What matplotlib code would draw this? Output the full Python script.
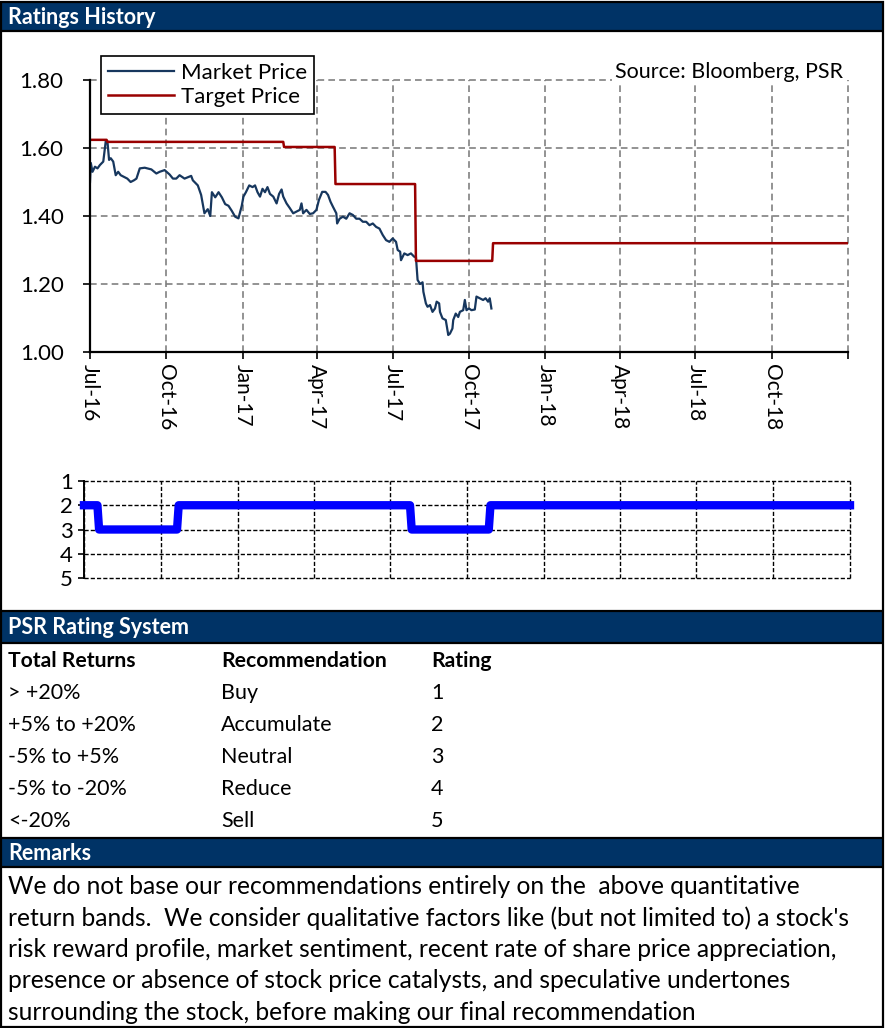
import matplotlib
matplotlib.use('Agg')
import matplotlib.pyplot as plt
import pandas as pd
from matplotlib.patches import Rectangle

plt.rcParams['font.family'] = ['Lato', 'DejaVu Sans']

# ---------------- data ----------------
start_date = pd.Timestamp('2016-07-01')
end_date = pd.Timestamp('2019-01-01')

# market price: day offsets from start_date and closing price
price_days = [0, 1, 3, 6, 9, 12, 16, 19, 21, 23, 25, 28, 31, 34, 37, 41, 45, 49, 53, 56,
              60, 66, 74, 80, 84, 90, 96, 100, 104, 108, 114, 122, 124, 130, 134, 138, 142, 145, 147, 151,
              155, 159, 163, 167, 171, 175, 179, 183, 185, 188, 192, 196, 199, 202, 205, 208, 211, 214, 217, 221,
              225, 228, 231, 233, 237, 241, 245, 249, 253, 255, 257, 261, 265, 269, 273, 276, 280, 284, 287, 290,
              293, 297, 298, 301, 305, 309, 313, 317, 321, 325, 329, 333, 337, 341, 345, 349, 353, 357, 361, 365,
              369, 371, 374, 375, 379, 383, 387, 391, 393, 395, 398, 401, 402, 405, 407, 410, 413, 416, 418, 421,
              422, 425, 429, 432, 434, 437, 438, 441, 444, 446, 450, 452, 454, 457, 460, 464, 466, 470, 474, 477,
              480, 482, 484]
price_values = [1.500, 1.556, 1.530, 1.545, 1.540, 1.550, 1.560, 1.620, 1.620, 1.565, 1.570, 1.560, 1.520, 1.530, 1.520, 1.515, 1.510, 1.500, 1.505, 1.510,
                1.540, 1.542, 1.537, 1.525, 1.530, 1.535, 1.522, 1.510, 1.510, 1.520, 1.510, 1.518, 1.505, 1.490, 1.462, 1.408, 1.420, 1.400, 1.470, 1.455,
                1.470, 1.455, 1.435, 1.430, 1.415, 1.398, 1.393, 1.430, 1.457, 1.470, 1.490, 1.485, 1.490, 1.470, 1.457, 1.480, 1.470, 1.485, 1.465, 1.457,
                1.437, 1.465, 1.478, 1.457, 1.437, 1.423, 1.408, 1.413, 1.418, 1.437, 1.408, 1.418, 1.406, 1.408, 1.418, 1.447, 1.471, 1.471, 1.462, 1.442,
                1.427, 1.408, 1.378, 1.392, 1.398, 1.392, 1.408, 1.403, 1.392, 1.392, 1.383, 1.383, 1.373, 1.378, 1.368, 1.363, 1.344, 1.329, 1.324, 1.334,
                1.324, 1.300, 1.295, 1.270, 1.290, 1.285, 1.290, 1.280, 1.280, 1.212, 1.200, 1.205, 1.177, 1.143, 1.133, 1.138, 1.118, 1.128, 1.148, 1.143,
                1.118, 1.099, 1.094, 1.050, 1.054, 1.069, 1.094, 1.113, 1.103, 1.118, 1.123, 1.153, 1.123, 1.128, 1.123, 1.125, 1.163, 1.158, 1.153, 1.158,
                1.148, 1.158, 1.128]

target_dates = ['2016-07-01', '2016-07-21', '2016-07-22', '2017-02-19', '2017-02-20', '2017-04-22',
                '2017-04-23', '2017-07-28', '2017-07-29', '2017-10-29', '2017-10-30', '2019-01-01']
target_values = [1.624, 1.624, 1.618, 1.618, 1.603, 1.603, 1.494, 1.494, 1.268, 1.268, 1.320, 1.320]

rating_dates = ['2016-07-01', '2016-07-17', '2016-07-19', '2016-10-20', '2016-10-22',
                '2017-07-25', '2017-07-27', '2017-10-27', '2017-10-29', '2019-01-01']
rating_values = [2, 2, 3, 3, 2, 2, 3, 3, 2, 2]

quarter_ticks = ['2016-07-01', '2016-10-01', '2017-01-01', '2017-04-01', '2017-07-01', '2017-10-01',
                 '2018-01-01', '2018-04-01', '2018-07-01', '2018-10-01', '2019-01-01']
quarter_labels = ['Jul-16', 'Oct-16', 'Jan-17', 'Apr-17', 'Jul-17', 'Oct-17',
                  'Jan-18', 'Apr-18', 'Jul-18', 'Oct-18', '']
price_ticks = [1.00, 1.20, 1.40, 1.60, 1.80]
rating_ticks = [1, 2, 3, 4, 5]

table_header = ['Total Returns', 'Recommendation', 'Rating']
table_returns = ['> +20%', '+5% to +20%', '-5% to +5%', '-5% to -20%', '<-20%']
table_recs = ['Buy', 'Accumulate', 'Neutral', 'Reduce', 'Sell']
table_ratings = ['1', '2', '3', '4', '5']

remarks_lines = [
    "We do not base our recommendations entirely on the  above quantitative",
    "return bands.  We consider qualitative factors like (but not limited to) a stock's",
    "risk reward profile, market sentiment, recent rate of share price appreciation,",
    "presence or absence of stock price catalysts, and speculative undertones",
    "surrounding the stock, before making our final recommendation",
]

# ---------------- figure ----------------
W, H = 886, 1028
NAVY = '#003366'
fig = plt.figure(figsize=(W / 100, H / 100), dpi=100)

def rect(x0, y0, x1, y1):
    return [x0 / W, 1 - y1 / H, (x1 - x0) / W, (y1 - y0) / H]

bg = fig.add_axes([0, 0, 1, 1], zorder=-10)
bg.set_xlim(0, W)
bg.set_ylim(H, 0)
bg.axis('off')

# navy header bars
for y0, y1 in [(3, 30), (612, 642), (839, 866)]:
    bg.add_patch(Rectangle((2, y0), 881, y1 - y0, facecolor=NAVY, edgecolor='none'))
# black separators
for y in [31, 611, 643, 838, 867]:
    bg.plot([1, 884], [y, y], color='black', lw=1.6, solid_capstyle='butt')
# outer border
bg.add_patch(Rectangle((1.5, 1.5), 882, 1025, fill=False, edgecolor='black', lw=1.6))

hdr_kw = dict(color='white', fontweight='bold', fontsize=15.5, va='center', ha='left')
bg.text(8, 17, 'Ratings History', **hdr_kw)
bg.text(8, 628, 'PSR Rating System', **hdr_kw)
bg.text(8, 853, 'Remarks', **hdr_kw)

# table
col_x = [8, 221, 431]
row_y0, row_dy = 661, 32
for cx, txt in zip(col_x, table_header):
    bg.text(cx, row_y0, txt, fontsize=15.2, fontweight='bold', va='center', ha='left')
for i, (a, b, c) in enumerate(zip(table_returns, table_recs, table_ratings)):
    yy = row_y0 + (i + 1) * row_dy
    for cx, txt in zip(col_x, (a, b, c)):
        bg.text(cx, yy, txt, fontsize=15.5, va='center', ha='left')

# remarks
for i, line in enumerate(remarks_lines):
    bg.text(8, 887 + i * 31.3, line, fontsize=17.7, va='center', ha='left')

# ---------------- price chart ----------------
ax = fig.add_axes(rect(90, 80, 848, 352))
ax.set_facecolor('none')
mp_dates = [start_date + pd.Timedelta(days=d) for d in price_days]
ax.plot(mp_dates, price_values, color='#17375E', lw=1.6, label='Market Price', zorder=3)
ax.plot(pd.to_datetime(target_dates), target_values, color='#990000', lw=1.8,
        label='Target Price', zorder=3)
ax.set_xlim(start_date, end_date)
ax.set_ylim(1.0, 1.8)
ax.set_yticks(price_ticks)
ax.set_yticklabels([f'{v:.2f}' for v in price_ticks], fontsize=16)
qt = pd.to_datetime(quarter_ticks)
ax.set_xticks(qt)
ax.set_xticklabels(quarter_labels, rotation=-90, fontsize=15, va='top', ha='center')
ax.grid(True, color='#808080', linestyle=(0, (4, 2.5)), lw=1.2)
for ln in ax.get_xgridlines() + ax.get_ygridlines():
    ln.set_clip_on(False)
for s in ['top', 'right']:
    ax.spines[s].set_visible(False)
for s in ['left', 'bottom']:
    ax.spines[s].set_linewidth(1.6)
    ax.spines[s].set_zorder(4)
ax.tick_params(axis='both', direction='out', length=5, width=1.2, pad=4)
ax.tick_params(axis='y', pad=14)

leg = ax.legend(loc='upper left', bbox_to_anchor=(101 / W, 1 - 56 / H),
                bbox_transform=fig.transFigure, borderaxespad=0, frameon=True,
                fancybox=False, edgecolor='black', framealpha=1, fontsize=16,
                handlelength=3.0, handletextpad=0.3, borderpad=0.3, labelspacing=0.2)
leg.get_frame().set_linewidth(1.2)
leg.set_zorder(6)

ax.text(843 / W, 1 - 72 / H, 'Source: Bloomberg, PSR', transform=fig.transFigure,
        fontsize=15.5, ha='right', va='center', zorder=6,
        bbox=dict(facecolor='white', edgecolor='none', pad=2))

# ---------------- rating chart ----------------
ax2 = fig.add_axes(rect(84, 481, 850, 578))
ax2.set_facecolor('none')
ax2.plot(pd.to_datetime(rating_dates), rating_values, color='#0000FF', lw=6,
         solid_joinstyle='round', zorder=3, clip_on=False)
ax2.set_xlim(start_date, end_date)
ax2.set_ylim(5, 1)
ax2.set_yticks(rating_ticks)
ax2.set_yticklabels([str(v) for v in rating_ticks], fontsize=16)
ax2.set_xticks(qt)
ax2.set_xticklabels([])
ax2.tick_params(axis='x', length=0)
ax2.tick_params(axis='y', direction='out', length=4, width=1.2, pad=4)
ax2.grid(True, color='black', linestyle=(0, (3, 1.5)), lw=1.0)
for ln in ax2.get_xgridlines() + ax2.get_ygridlines():
    ln.set_clip_on(False)
for s in ['top', 'right', 'bottom']:
    ax2.spines[s].set_visible(False)
ax2.spines['left'].set_linewidth(1.4)

fig.savefig('out.png', dpi=100)
